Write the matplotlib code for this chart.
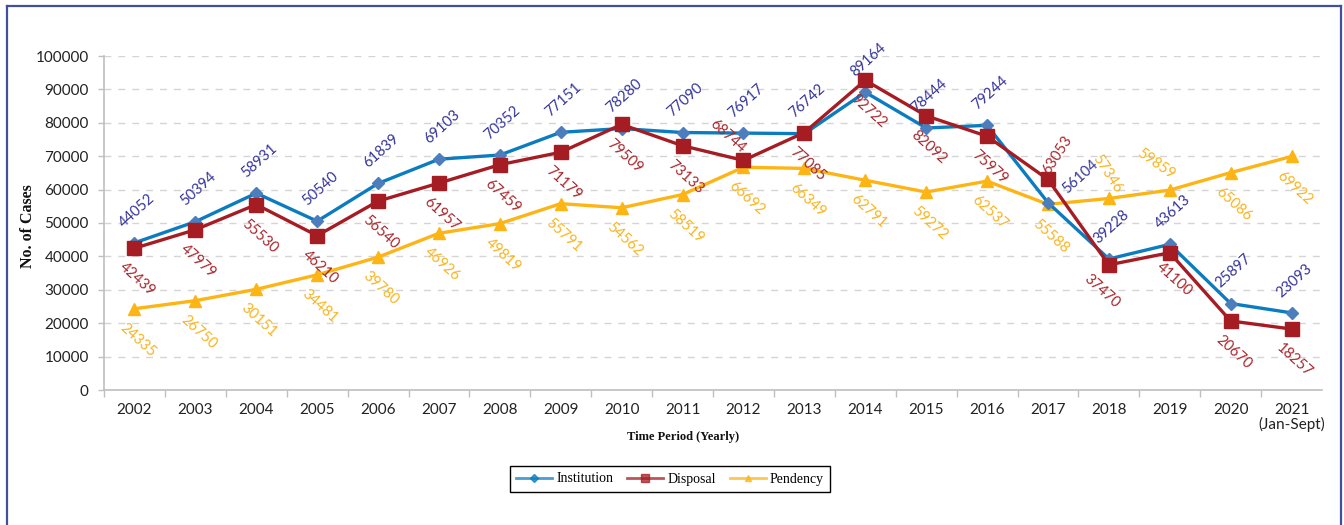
import matplotlib
matplotlib.use("Agg")
import matplotlib.pyplot as plt
from matplotlib.lines import Line2D

years = ["2002", "2003", "2004", "2005", "2006", "2007", "2008", "2009", "2010", "2011",
         "2012", "2013", "2014", "2015", "2016", "2017", "2018", "2019", "2020",
         "2021\n(Jan-Sept)"]
institution = [44052, 50394, 58931, 50540, 61839, 69103, 70352, 77151, 78280, 77090,
               76917, 76742, 89164, 78444, 79244, 56104, 39228, 43613, 25897, 23093]
disposal = [42439, 47979, 55530, 46210, 56540, 61957, 67459, 71179, 79509, 73133,
            68744, 77085, 92722, 82092, 75979, 63053, 37470, 41100, 20670, 18257]
pendency = [24335, 26750, 30151, 34481, 39780, 46926, 49819, 55791, 54562, 58519,
            66692, 66349, 62791, 59272, 62537, 55588, 57346, 59859, 65086, 69922]
yticks = list(range(0, 100001, 10000))

W, H, DPI = 1344, 525, 100
PX = 72.0 / DPI  # points per pixel

fig = plt.figure(figsize=(W / DPI, H / DPI), dpi=DPI)
ax = fig.add_axes([104 / W, 1 - 390 / H, (1322 - 104) / W, (390 - 56) / H])

x = list(range(len(years)))

C_INST, C_INST_M, C_INST_T = "#0C7CC0", "#4C7EBE", "#35349A"
C_DISP, C_DISP_T = "#A51C22", "#A8262C"
C_PEND, C_PEND_T = "#FDB515", "#F9B41E"

ax.plot(x, pendency, color=C_PEND, lw=2.4, marker="^", ms=9, mfc=C_PEND, mec=C_PEND, zorder=3)
ax.plot(x, institution, color=C_INST, lw=2.4, marker="D", ms=6, mfc=C_INST_M, mec=C_INST_M, zorder=4)
ax.plot(x, disposal, color=C_DISP, lw=2.4, marker="s", ms=9.5, mfc=C_DISP, mec=C_DISP, zorder=5)

ax.set_xlim(-0.5, len(years) - 0.5)
ax.set_ylim(0, 100000)
ax.set_yticks(yticks)
ax.set_yticklabels([str(v) for v in yticks], fontfamily="Lato", fontsize=11, color="#222222")
ax.yaxis.grid(True, color="#D5D5D5", lw=1, ls=(0, (5, 5)))
ax.set_axisbelow(True)

# category labels at centres, tick marks at the boundaries
ax.set_xticks([i + 0.5 for i in x[:-1]] + [-0.5], minor=False)
ax.set_xticklabels([])
ax.set_xticks(x, minor=True)
ax.set_xticklabels(years, minor=True, fontfamily="Lato", fontsize=11, color="#222222",
                   linespacing=1.0, va="top")
ax.tick_params(axis="x", which="minor", length=0, pad=9)
ax.tick_params(axis="x", which="major", length=5, color="#BFBFBF", width=1)
ax.tick_params(axis="y", length=4, color="#BFBFBF", width=1, pad=7)

for s in ("top", "right"):
    ax.spines[s].set_visible(False)
for s in ("left", "bottom"):
    ax.spines[s].set_color("#BFBFBF")
    ax.spines[s].set_linewidth(1.2)

ROT = 42


def label(xi, yi, txt, color, dx, dy, rot, ha="center", va="bottom"):
    ax.annotate(txt, (xi, yi), xytext=(dx * PX, dy * PX), textcoords="offset points",
                ha=ha, va=va, rotation=rot, fontsize=10.5, fontfamily="Lato",
                color=color, zorder=6)


inst_special = {15: dict(dx=12, dy=6, rot=ROT, ha="left", va="bottom")}
disp_special = {10: dict(dx=-16, dy=24, rot=-ROT, va="center"),
                15: dict(dx=10, dy=24, rot=57, va="center"),
                16: dict(dx=-7, dy=-7, rot=-ROT, va="top"),
                17: dict(dx=5, dy=-7, rot=-ROT, va="top")}
pend_special = {16: dict(dx=-2, dy=25, rot=-57, va="center"),
                17: dict(dx=-14, dy=26, rot=-35, va="center")}

for i, v in enumerate(institution):
    kw = inst_special.get(i, dict(dx=3, dy=13, rot=ROT, va="bottom"))
    label(i, v, str(v), C_INST_T, **kw)
for i, v in enumerate(disposal):
    kw = disp_special.get(i, dict(dx=3, dy=-12, rot=-ROT, va="top"))
    label(i, v, str(v), C_DISP_T, **kw)
for i, v in enumerate(pendency):
    kw = pend_special.get(i, dict(dx=3, dy=-12, rot=-ROT, va="top"))
    label(i, v, str(v), C_PEND_T, **kw)

fig.text(28 / W, 1 - 226 / H, "No. of Cases", rotation=90, ha="center", va="center",
         fontsize=11.5, fontweight="bold", fontfamily="Liberation Serif", color="#111111")
fig.text(683 / W, 1 - 437 / H, "Time Period (Yearly)", ha="center", va="center",
         fontsize=9, fontweight="bold", fontfamily="Liberation Serif", color="#111111")

handles = [
    Line2D([], [], color=C_INST, lw=2, marker="D", ms=4, mfc=C_INST, mec=C_INST, alpha=0.75),
    Line2D([], [], color=C_DISP, lw=2, marker="s", ms=6, mfc=C_DISP, mec=C_DISP, alpha=0.75),
    Line2D([], [], color=C_PEND, lw=2, marker="^", ms=5, mfc=C_PEND, mec=C_PEND, alpha=0.75),
]
leg = fig.legend(handles, ["Institution", "Disposal", "Pendency"], loc="center",
                 bbox_to_anchor=(670 / W, 1 - 479 / H), ncol=3, frameon=True,
                 fancybox=False, edgecolor="#000000", framealpha=1,
                 prop={"family": "Liberation Serif", "size": 10}, handlelength=2.6,
                 handletextpad=0.3, columnspacing=1.0, borderpad=0.45)
leg.get_frame().set_linewidth(1.0)

# outer frame
frame_c = "#42509B"
fig.add_artist(Line2D([7 / W, 7 / W], [0, 1 - 6 / H], color=frame_c, lw=1.6, transform=fig.transFigure))
fig.add_artist(Line2D([7 / W, 1341 / W], [1 - 6 / H, 1 - 6 / H], color=frame_c, lw=1.6, transform=fig.transFigure))
fig.add_artist(Line2D([1341 / W, 1341 / W], [0, 1 - 6 / H], color=frame_c, lw=1.6, transform=fig.transFigure))

fig.savefig("out.png", dpi=DPI, facecolor="white")
